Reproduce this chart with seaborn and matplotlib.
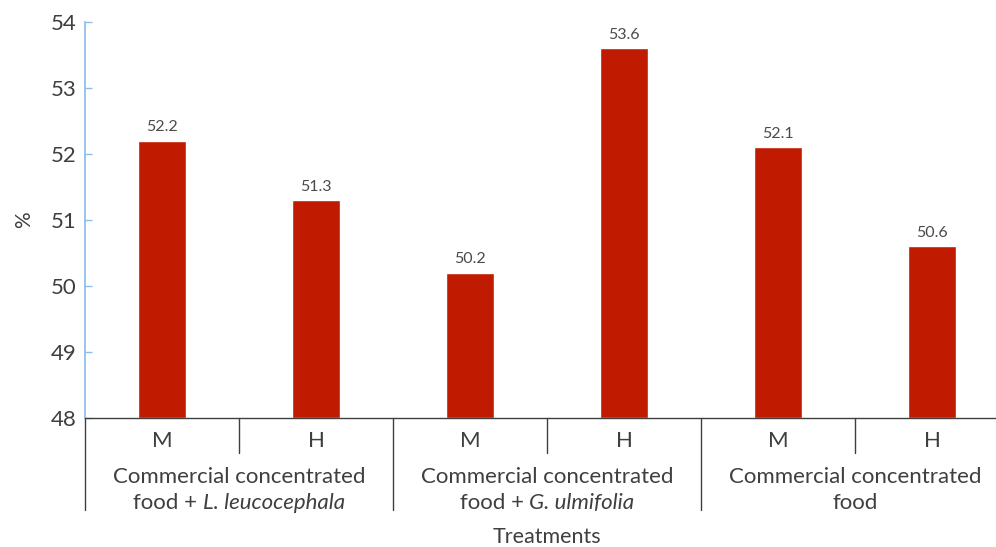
import matplotlib
matplotlib.use("Agg")
import matplotlib.pyplot as plt
from matplotlib import font_manager
from matplotlib.transforms import IdentityTransform
import seaborn as sns
import pandas as pd

# Data
group_line1 = ["Commercial concentrated"] * 3
group_line2 = [
    [("food + ", "normal"), ("L. leucocephala", "italic")],
    [("food + ", "normal"), ("G. ulmifolia", "italic")],
    [("food", "normal")],
]
levels = ["M", "H"]
values = [52.2, 51.3, 50.2, 53.6, 52.1, 50.6]

sns.set_theme(style="white")
fams = {f.name for f in font_manager.fontManager.ttflist}
family = "Lato" if "Lato" in fams else "DejaVu Sans"
plt.rcParams["font.family"] = [family, "DejaVu Sans"]

keys = [f"{t}|{l}" for t in range(len(group_line1)) for l in levels]
df = pd.DataFrame({"key": keys, "value": values})

W, H = 996, 547
fig = plt.figure(figsize=(W / 100, H / 100), dpi=100)
left, right = 85, 85 + 154 * 6
top, bottom = 22, 418
ax = fig.add_axes([left / W, 1 - bottom / H, (right - left) / W, (bottom - top) / H])

bar_color = "#C01A00"
ymin = 48
sns.barplot(data=df, x="key", y=[v - ymin for v in values], color=bar_color,
            width=0.31, saturation=1, ax=ax)
# shift bars so they rise from the axis floor
for p in ax.patches:
    p.set_y(ymin)
ax.set_ylim(48, 54)
ax.set_xlim(-0.5, 5.5)

dark = "#3f3f3f"
for i, v in enumerate(values):
    ax.text(i, v + 0.1, f"{v:.1f}", ha="center", va="bottom", fontsize=11.5,
            color="#4a4a4a")

ax.set_yticks(range(48, 55))
ax.tick_params(axis="y", direction="in", length=5, color="#8DBDEB", width=1,
               labelsize=16, labelcolor=dark, pad=6, left=True)
ax.set_xticks([])
ax.set_xlabel("")
ax.set_ylabel("%", fontsize=15, color=dark, labelpad=12)
for s in ["top", "right"]:
    ax.spines[s].set_visible(False)
ax.spines["left"].set_color("#8DBDEB")
ax.spines["bottom"].set_color(dark)
ax.spines["bottom"].set_linewidth(1)

trans = ax.get_xaxis_transform()
fs = 16
# separators under the axis
for k in range(7):
    x = k - 0.5
    depth = -92 / 396 if k % 2 == 0 else -35 / 396
    ax.plot([x, x], [0, depth], transform=trans, color=dark, lw=1, clip_on=False)
for i in range(6):
    ax.text(i, -23 / 396, levels[i % 2], transform=trans, ha="center", va="center",
            fontsize=fs, color=dark)

renderer = fig.canvas.get_renderer()
for g in range(len(group_line1)):
    xc = 2 * g + 0.5
    ax.text(xc, -59 / 396, group_line1[g], transform=trans, ha="center",
            va="center", fontsize=fs, color=dark)
    # second line mixes upright and italic pieces, centred as a whole
    cx, cy = trans.transform((xc, -85 / 396))
    pieces = [fig.text(0, 0, s, fontstyle=st, fontsize=fs, color=dark,
                       transform=IdentityTransform(), va="center")
              for s, st in group_line2[g]]
    widths = [p.get_window_extent(renderer).width for p in pieces]
    x0 = cx - sum(widths) / 2
    for p, w in zip(pieces, widths):
        p.set_position((x0, cy))
        x0 += w

ax.text(2.5, -119 / 396, "Treatments", transform=trans, ha="center", va="center",
        fontsize=15.5, color=dark)

fig.savefig("out.png", dpi=100)
